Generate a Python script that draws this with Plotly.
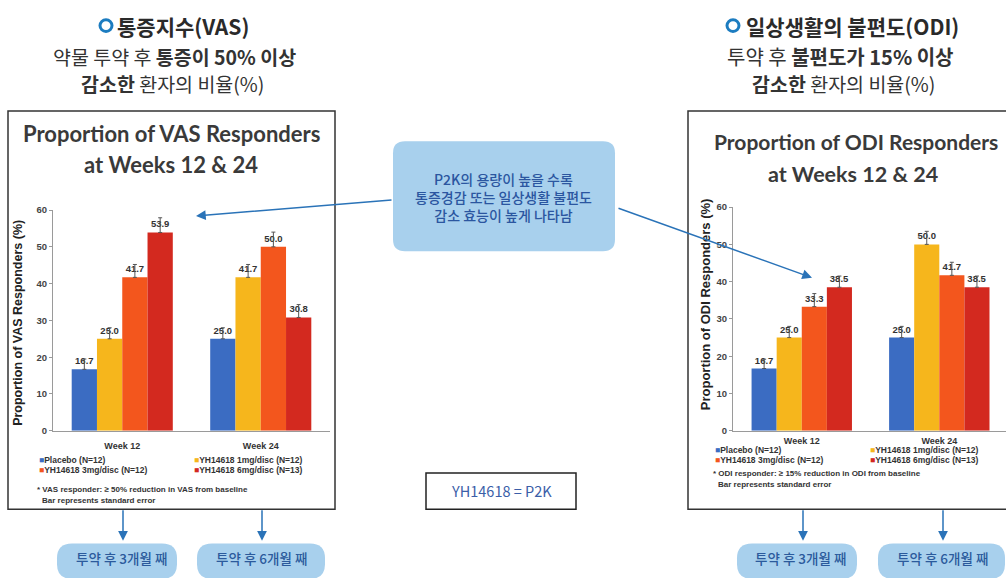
import plotly.graph_objects as go

W, H = 1006, 578

# ---------------- data ----------------
weeks = ["Week 12", "Week 24"]
series_names = ["Placebo (N=12)", "YH14618 1mg/disc (N=12)",
                "YH14618 3mg/disc (N=12)", "YH14618 6mg/disc (N=13)"]
series_colors = ["#3b6cc2", "#f6b61c", "#f3561d", "#d3291f"]

vas_placebo = [16.7, 25.0]
vas_1mg = [25.0, 41.7]
vas_3mg = [41.7, 50.0]
vas_6mg = [53.9, 30.8]
vas_err_placebo = [2.8, 3.0]
vas_err_1mg = [3.0, 3.5]
vas_err_3mg = [3.5, 4.0]
vas_err_6mg = [4.0, 3.5]

odi_placebo = [16.7, 25.0]
odi_1mg = [25.0, 50.0]
odi_3mg = [33.3, 41.7]
odi_6mg = [38.5, 38.5]
odi_err_placebo = [2.5, 3.0]
odi_err_1mg = [3.0, 3.5]
odi_err_3mg = [3.5, 3.5]
odi_err_6mg = [3.0, 3.0]

vas_values = [vas_placebo, vas_1mg, vas_3mg, vas_6mg]
vas_errors = [vas_err_placebo, vas_err_1mg, vas_err_3mg, vas_err_6mg]
odi_values = [odi_placebo, odi_1mg, odi_3mg, odi_6mg]
odi_errors = [odi_err_placebo, odi_err_1mg, odi_err_3mg, odi_err_6mg]

# ---------------- helpers ----------------
def X(x):
    return x / W


def Y(y):
    return 1 - y / H


def rrect(x0, y0, x1, y1, r):
    p = (f"M{X(x0+r)},{Y(y0)} L{X(x1-r)},{Y(y0)} Q{X(x1)},{Y(y0)} {X(x1)},{Y(y0+r)} "
         f"L{X(x1)},{Y(y1-r)} Q{X(x1)},{Y(y1)} {X(x1-r)},{Y(y1)} "
         f"L{X(x0+r)},{Y(y1)} Q{X(x0)},{Y(y1)} {X(x0)},{Y(y1-r)} "
         f"L{X(x0)},{Y(y0+r)} Q{X(x0)},{Y(y0)} {X(x0+r)},{Y(y0)} Z")
    return p


KR = "Noto Sans CJK KR"
EN = "Liberation Sans, Arial"
TITLE = "Lato"

fig = go.Figure()

for vals, errs, xa, ya in [(vas_values, vas_errors, "x", "y"),
                           (odi_values, odi_errors, "x2", "y2")]:
    for name, color, v, e in zip(series_names, series_colors, vals, errs):
        fig.add_trace(go.Bar(
            x=weeks, y=v, name=name, marker_color=color, marker_line_width=0,
            error_y=dict(type="data", array=e, arrayminus=[0] * len(e), symmetric=False,
                         color="#555", thickness=1, width=2),
            texttemplate="%{y:.1f}", textposition="outside",
            textfont=dict(family=EN, size=9.5, color="#333", weight="bold"),
            cliponaxis=False, xaxis=xa, yaxis=ya, showlegend=False,
        ))

axis_common = dict(showgrid=False, zeroline=False, showline=True, linecolor="#9a9a9a",
                   linewidth=1, fixedrange=True)
xtickfont = dict(family=EN, size=9, color="#333", weight="bold")
ytickfont = dict(family=EN, size=9.5, color="#444", weight="bold")

fig.update_layout(
    width=W, height=H, margin=dict(l=0, r=0, t=0, b=0),
    paper_bgcolor="white", plot_bgcolor="white",
    barmode="group", bargap=0.27, bargroupgap=0,
    showlegend=False,
    xaxis=dict(domain=[X(53), X(330)], range=[-0.5, 1.5], type="category", anchor="y",
               ticks="", tickfont=xtickfont, ticklabelstandoff=6, **axis_common),
    yaxis=dict(domain=[Y(433), Y(208)], range=[0, 60], dtick=10, anchor="x",
               ticks="outside", ticklen=3, tickcolor="#9a9a9a", tickfont=ytickfont,
               **axis_common),
    xaxis2=dict(domain=[X(733), 1], range=[-0.5, 1.485], type="category", anchor="y2",
                ticks="", tickfont=xtickfont, ticklabelstandoff=1, **axis_common),
    yaxis2=dict(domain=[Y(433), Y(205)], range=[0, 60], dtick=10, anchor="x2",
                ticks="outside", ticklen=3, tickcolor="#9a9a9a", tickfont=ytickfont,
                **axis_common),
)

shapes = []
# panel borders
shapes.append(dict(type="rect", xref="paper", yref="paper", x0=X(8), x1=X(335), y0=Y(513), y1=Y(107),
                   line=dict(color="#333", width=1.5), fillcolor="rgba(0,0,0,0)", layer="below"))
shapes.append(dict(type="rect", xref="paper", yref="paper", x0=X(688), x1=X(1012), y0=Y(513), y1=Y(107),
                   line=dict(color="#333", width=1.5), fillcolor="rgba(0,0,0,0)", layer="below"))
# callout box
shapes.append(dict(type="path", xref="paper", yref="paper", path=rrect(393, 138, 615, 250, 12),
                   fillcolor="#a8d0ed", line=dict(width=0), layer="below"))
# YH box
shapes.append(dict(type="rect", xref="paper", yref="paper", x0=X(426), x1=X(576), y0=Y(513), y1=Y(476),
                   line=dict(color="#222", width=1.5), fillcolor="white"))
# pills
for x0, x1 in [(57, 177), (197, 325), (737, 857), (878, 1005)]:
    shapes.append(dict(type="path", xref="paper", yref="paper", path=rrect(x0, 548, x1, 584, 15),
                       fillcolor="#a8d0ed", line=dict(width=0), layer="below"))
# ring markers
for cx in [106, 733]:
    shapes.append(dict(type="circle", xref="paper", yref="paper",
                       x0=X(cx - 6), x1=X(cx + 6), y0=Y(26), y1=Y(14),
                       line=dict(color="#1c7cc0", width=3)))
fig.update_layout(shapes=shapes)

ann = []


def text(x, y, s, size, color="#333", family=KR, xanchor="center", weight=None, **kw):
    f = dict(family=family, size=size, color=color)
    if weight is not None:
        f["weight"] = weight
    ann.append(dict(x=X(x), y=Y(y), xref="paper", yref="paper", text=s, showarrow=False,
                    xanchor=xanchor, yanchor="middle", font=f, **kw))


# headings
text(115, 20, "<b>통증지수(VAS)</b>", 21, "#2a2a2a", xanchor="left")
text(174, 51, "약물 투약 후 <b>통증이 50% 이상</b>", 19.5, "#333")
text(172, 79, "<b>감소한</b> 환자의 비율(%)", 19.5, "#333")
text(744, 20, "<b>일상생활의 불편도(ODI)</b>", 21, "#2a2a2a", xanchor="left")
text(840, 51, "투약 후 <b>불편도가 15% 이상</b>", 20, "#333")
text(843, 79, "<b>감소한</b> 환자의 비율(%)", 19.5, "#333")

# chart titles
text(171, 130, "<b>Proportion of VAS Responders</b>", 22, "#3a3a3a", family=TITLE)
text(171, 162, "<b>at Weeks 12 & 24</b>", 22, "#3a3a3a", family=TITLE)
text(856, 138, "<b>Proportion of ODI Responders</b>", 21, "#3a3a3a", family=TITLE)
text(853, 171, "<b>at Weeks 12 & 24</b>", 21.5, "#3a3a3a", family=TITLE)

# y-axis titles
text(18, 323, "<b>Proportion of VAS Responders (%)</b>", 12.5, "#222", family=EN, textangle=-90)
text(705, 304, "<b>Proportion of ODI Responders (%)</b>", 13, "#222", family=EN, textangle=-90)

# legends
def sq(c):
    return f"<span style='color:{c}'>■</span>"


for (lx, rx, y1, y2, fy1, fy2, key, thr) in [
        (37, 192, 463, 473, 493, 504, "VAS", "50%"),
        (713, 868, 453, 463, 477, 488, "ODI", "15%")]:
    text(lx, y1, "<b>" + sq(series_colors[0]) + series_names[0] + "</b>", 8.5, "#333", family=EN, xanchor="left")
    text(lx, y2, "<b>" + sq(series_colors[2]) + series_names[2] + "</b>", 8.5, "#333", family=EN, xanchor="left")
    text(rx, y1, "<b>" + sq(series_colors[1]) + series_names[1] + "</b>", 8.5, "#333", family=EN, xanchor="left")
    text(rx, y2, "<b>" + sq(series_colors[3]) + series_names[3] + "</b>", 8.5, "#333", family=EN, xanchor="left")
    text(lx - 2, fy1, f"<b>* {key} responder: ≥ {thr} reduction in {key} from baseline</b>", 8, "#333",
         family=EN, xanchor="left")
    text(lx + 3, fy2, "<b>Bar represents standard error</b>", 8, "#333", family=EN, xanchor="left")

# callout
text(504, 195, "P2K의 용량이 높을 수록<br>통증경감 또는 일상생활 불편도<br>감소 효능이 높게 나타남",
     14, "#2b56a0", weight=500)

text(501, 494, "YH14618 = P2K", 14.5, "#3b5ea8")

# pills text
for cx, s in [(121, "투약 후 3개월 째"), (261, "투약 후 6개월 째"),
              (800, "투약 후 3개월 째"), (942, "투약 후 6개월 째")]:
    text(cx, 563, s, 13.5, "#2b5a9c", weight=500)

# arrows
arrow_color = "#2a73b8"
for (tx, ty, axp, ayp) in [(196, 214, 197, -16), (812, 277, -195, -70),
                           (123, 545, 0, -32), (262, 545, 0, -32),
                           (803, 545, 0, -32), (943, 545, 0, -32)]:
    ann.append(dict(x=X(tx), y=Y(ty), xref="paper", yref="paper", text="", showarrow=True,
                    ax=axp, ay=ayp, arrowhead=2, arrowsize=1.3, arrowwidth=1.5,
                    arrowcolor=arrow_color, standoff=0))

fig.update_layout(annotations=ann)

fig.write_html("out.html")
